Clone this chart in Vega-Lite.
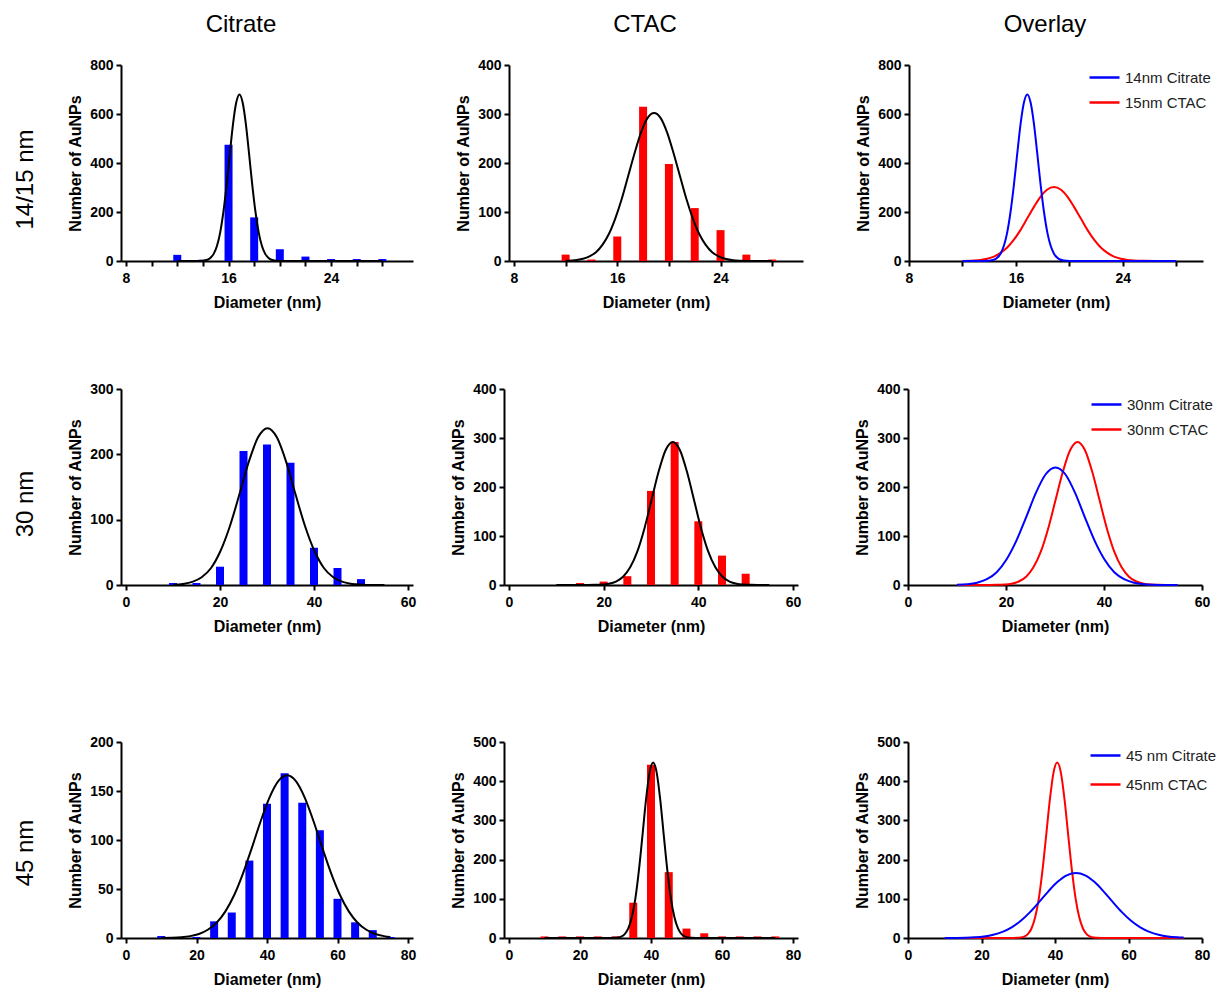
{
  "$schema": "https://vega.github.io/schema/vega-lite/v6.json",
  "background": "white",
  "padding": {"left": 13, "top": 13, "right": 5, "bottom": 5},
  "config": {
    "font": "Liberation Sans",
    "view": {"stroke": null},
    "axis": {"grid": false, "domainColor": "#000", "domainWidth": 2, "tickColor": "#000", "tickWidth": 2, "tickSize": 5,
      "labelFont": "Liberation Sans", "labelFontSize": 14, "labelFontWeight": "bold", "labelColor": "#000",
      "titleFont": "Liberation Sans", "titleFontSize": 16, "titleFontWeight": "bold", "titleColor": "#000"},
    "axisY": {"titlePadding": 6, "labelPadding": 3},
    "axisX": {"titlePadding": 9, "labelPadding": 5, "labelFlush": false},
    "title": {"font": "Liberation Sans", "fontSize": 24, "fontWeight": "normal", "color": "#000"},
    "legend": {"orient": "none", "title": null, "symbolType": "stroke", "symbolSize": 900, "symbolStrokeWidth": 2.5,
      "labelFont": "Liberation Sans", "labelFontSize": 15, "labelColor": "#222", "padding": 0, "labelOffset": 4}
  },
  "datasets": {
    "b1": [{"d":12,"n":25},{"d":14,"n":5},{"d":16,"n":475},{"d":18,"n":178},{"d":20,"n":48},{"d":22,"n":18},{"d":24,"n":8},{"d":26,"n":8},{"d":28,"n":8}],
    "b2": [{"d":12,"n":13},{"d":14,"n":3},{"d":16,"n":50},{"d":18,"n":315},{"d":20,"n":198},{"d":22,"n":108},{"d":24,"n":63},{"d":26,"n":13},{"d":28,"n":3}],
    "b3": [{"d":10,"n":3},{"d":15,"n":3},{"d":20,"n":28},{"d":25,"n":205},{"d":30,"n":215},{"d":35,"n":187},{"d":40,"n":57},{"d":45,"n":26},{"d":50,"n":9}],
    "b4": [{"d":15,"n":4},{"d":20,"n":7},{"d":25,"n":18},{"d":30,"n":192},{"d":35,"n":292},{"d":40,"n":130},{"d":45,"n":60},{"d":50,"n":23}],
    "b5": [{"d":10,"n":2},{"d":15,"n":1},{"d":20,"n":1},{"d":25,"n":17},{"d":30,"n":26},{"d":35,"n":79},{"d":40,"n":137},{"d":45,"n":168},{"d":50,"n":138},{"d":55,"n":110},{"d":60,"n":40},{"d":65,"n":16},{"d":70,"n":8},{"d":75,"n":1}],
    "b6": [{"d":10,"n":4},{"d":15,"n":4},{"d":20,"n":4},{"d":25,"n":4},{"d":30,"n":4},{"d":35,"n":90},{"d":40,"n":442},{"d":45,"n":168},{"d":50,"n":24},{"d":55,"n":12},{"d":60,"n":4},{"d":65,"n":4},{"d":70,"n":4},{"d":75,"n":4}],
    "c1": [{"s":"14nm Citrate","d":12,"n":0},{"s":"14nm Citrate","d":13,"n":0},{"s":"14nm Citrate","d":14,"n":1.5},{"s":"14nm Citrate","d":14.35,"n":5},{"s":"14nm Citrate","d":14.6,"n":13},{"s":"14nm Citrate","d":14.85,"n":30},{"s":"14nm Citrate","d":15.1,"n":62},{"s":"14nm Citrate","d":15.35,"n":117},{"s":"14nm Citrate","d":15.6,"n":201},{"s":"14nm Citrate","d":15.85,"n":311},{"s":"14nm Citrate","d":16.1,"n":438},{"s":"14nm Citrate","d":16.35,"n":560},{"s":"14nm Citrate","d":16.6,"n":647},{"s":"14nm Citrate","d":16.85,"n":680},{"s":"14nm Citrate","d":17.1,"n":647},{"s":"14nm Citrate","d":17.35,"n":560},{"s":"14nm Citrate","d":17.6,"n":438},{"s":"14nm Citrate","d":17.85,"n":311},{"s":"14nm Citrate","d":18.1,"n":201},{"s":"14nm Citrate","d":18.35,"n":117},{"s":"14nm Citrate","d":18.6,"n":62},{"s":"14nm Citrate","d":18.85,"n":30},{"s":"14nm Citrate","d":19.1,"n":13},{"s":"14nm Citrate","d":19.35,"n":5},{"s":"14nm Citrate","d":19.6,"n":2},{"s":"14nm Citrate","d":20,"n":0.3},{"s":"14nm Citrate","d":21,"n":0},{"s":"14nm Citrate","d":24,"n":0},{"s":"14nm Citrate","d":28,"n":0}],
    "c2": [{"s":"15nm CTAC","d":12,"n":0.4},{"s":"15nm CTAC","d":12.85,"n":2.1},{"s":"15nm CTAC","d":13.35,"n":4.6},{"s":"15nm CTAC","d":13.85,"n":9.5},{"s":"15nm CTAC","d":14.35,"n":18},{"s":"15nm CTAC","d":14.85,"n":33},{"s":"15nm CTAC","d":15.35,"n":55},{"s":"15nm CTAC","d":15.85,"n":87},{"s":"15nm CTAC","d":16.35,"n":127},{"s":"15nm CTAC","d":16.85,"n":174},{"s":"15nm CTAC","d":17.35,"n":221},{"s":"15nm CTAC","d":17.85,"n":263},{"s":"15nm CTAC","d":18.35,"n":292},{"s":"15nm CTAC","d":18.85,"n":302},{"s":"15nm CTAC","d":19.35,"n":292},{"s":"15nm CTAC","d":19.85,"n":263},{"s":"15nm CTAC","d":20.35,"n":221},{"s":"15nm CTAC","d":20.85,"n":174},{"s":"15nm CTAC","d":21.35,"n":127},{"s":"15nm CTAC","d":21.85,"n":87},{"s":"15nm CTAC","d":22.35,"n":55},{"s":"15nm CTAC","d":22.85,"n":33},{"s":"15nm CTAC","d":23.35,"n":18},{"s":"15nm CTAC","d":23.85,"n":9.5},{"s":"15nm CTAC","d":24.35,"n":4.6},{"s":"15nm CTAC","d":24.85,"n":2.1},{"s":"15nm CTAC","d":25.5,"n":0.7},{"s":"15nm CTAC","d":26.5,"n":0.1},{"s":"15nm CTAC","d":28,"n":0}],
    "c3": [{"s":"30nm Citrate","d":10,"n":0.4},{"s":"30nm Citrate","d":12.1,"n":1.6},{"s":"30nm Citrate","d":14.1,"n":4.7},{"s":"30nm Citrate","d":16.1,"n":11.8},{"s":"30nm Citrate","d":18.1,"n":26},{"s":"30nm Citrate","d":20.1,"n":52},{"s":"30nm Citrate","d":22.1,"n":90},{"s":"30nm Citrate","d":24.1,"n":138},{"s":"30nm Citrate","d":26.1,"n":188},{"s":"30nm Citrate","d":28.1,"n":226},{"s":"30nm Citrate","d":30.1,"n":240},{"s":"30nm Citrate","d":32.1,"n":226},{"s":"30nm Citrate","d":34.1,"n":188},{"s":"30nm Citrate","d":36.1,"n":138},{"s":"30nm Citrate","d":38.1,"n":90},{"s":"30nm Citrate","d":40.1,"n":52},{"s":"30nm Citrate","d":42.1,"n":26},{"s":"30nm Citrate","d":44.1,"n":11.8},{"s":"30nm Citrate","d":46.1,"n":4.7},{"s":"30nm Citrate","d":48.1,"n":1.6},{"s":"30nm Citrate","d":50.1,"n":0.5},{"s":"30nm Citrate","d":52.1,"n":0.1},{"s":"30nm Citrate","d":55,"n":0}],
    "c4": [{"s":"30nm CTAC","d":10,"n":0},{"s":"30nm CTAC","d":16.6,"n":0.07},{"s":"30nm CTAC","d":18.1,"n":0.26},{"s":"30nm CTAC","d":19.6,"n":0.9},{"s":"30nm CTAC","d":21.1,"n":2.6},{"s":"30nm CTAC","d":22.6,"n":7.1},{"s":"30nm CTAC","d":24.1,"n":17},{"s":"30nm CTAC","d":25.6,"n":36},{"s":"30nm CTAC","d":27.1,"n":68},{"s":"30nm CTAC","d":28.6,"n":115},{"s":"30nm CTAC","d":30.1,"n":173},{"s":"30nm CTAC","d":31.6,"n":231},{"s":"30nm CTAC","d":33.1,"n":275.5},{"s":"30nm CTAC","d":34.6,"n":292},{"s":"30nm CTAC","d":36.1,"n":275.5},{"s":"30nm CTAC","d":37.6,"n":231},{"s":"30nm CTAC","d":39.1,"n":173},{"s":"30nm CTAC","d":40.6,"n":115},{"s":"30nm CTAC","d":42.1,"n":68},{"s":"30nm CTAC","d":43.6,"n":36},{"s":"30nm CTAC","d":45.1,"n":17},{"s":"30nm CTAC","d":46.6,"n":7.1},{"s":"30nm CTAC","d":48.1,"n":2.6},{"s":"30nm CTAC","d":49.6,"n":0.9},{"s":"30nm CTAC","d":51.1,"n":0.26},{"s":"30nm CTAC","d":52.6,"n":0.07},{"s":"30nm CTAC","d":55,"n":0}],
    "c5": [{"s":"45 nm Citrate","d":10,"n":0.09},{"s":"45 nm Citrate","d":13.2,"n":0.3},{"s":"45 nm Citrate","d":15.7,"n":0.8},{"s":"45 nm Citrate","d":18.2,"n":1.9},{"s":"45 nm Citrate","d":20.7,"n":4.1},{"s":"45 nm Citrate","d":23.2,"n":8.4},{"s":"45 nm Citrate","d":25.7,"n":15.6},{"s":"45 nm Citrate","d":28.2,"n":27.2},{"s":"45 nm Citrate","d":30.7,"n":43.9},{"s":"45 nm Citrate","d":33.2,"n":66},{"s":"45 nm Citrate","d":35.7,"n":92},{"s":"45 nm Citrate","d":38.2,"n":119.1},{"s":"45 nm Citrate","d":40.7,"n":143.2},{"s":"45 nm Citrate","d":43.2,"n":160},{"s":"45 nm Citrate","d":45.7,"n":166},{"s":"45 nm Citrate","d":48.2,"n":160},{"s":"45 nm Citrate","d":50.7,"n":143.2},{"s":"45 nm Citrate","d":53.2,"n":119.1},{"s":"45 nm Citrate","d":55.7,"n":92},{"s":"45 nm Citrate","d":58.2,"n":66},{"s":"45 nm Citrate","d":60.7,"n":43.9},{"s":"45 nm Citrate","d":63.2,"n":27.2},{"s":"45 nm Citrate","d":65.7,"n":15.6},{"s":"45 nm Citrate","d":68.2,"n":8.4},{"s":"45 nm Citrate","d":70.7,"n":4.1},{"s":"45 nm Citrate","d":73.2,"n":1.9},{"s":"45 nm Citrate","d":75,"n":1.0}],
    "c6": [{"s":"45nm CTAC","d":10,"n":0},{"s":"45nm CTAC","d":28.6,"n":0.09},{"s":"45nm CTAC","d":29.6,"n":0.34},{"s":"45nm CTAC","d":30.6,"n":1.2},{"s":"45nm CTAC","d":31.6,"n":3.6},{"s":"45nm CTAC","d":32.6,"n":10},{"s":"45nm CTAC","d":33.6,"n":24.3},{"s":"45nm CTAC","d":34.6,"n":52.7},{"s":"45nm CTAC","d":35.6,"n":101},{"s":"45nm CTAC","d":36.6,"n":173},{"s":"45nm CTAC","d":37.6,"n":262},{"s":"45nm CTAC","d":38.6,"n":353},{"s":"45nm CTAC","d":39.6,"n":422},{"s":"45nm CTAC","d":40.6,"n":448},{"s":"45nm CTAC","d":41.6,"n":422},{"s":"45nm CTAC","d":42.6,"n":353},{"s":"45nm CTAC","d":43.6,"n":262},{"s":"45nm CTAC","d":44.6,"n":173},{"s":"45nm CTAC","d":45.6,"n":101},{"s":"45nm CTAC","d":46.6,"n":52.7},{"s":"45nm CTAC","d":47.6,"n":24.3},{"s":"45nm CTAC","d":48.6,"n":10},{"s":"45nm CTAC","d":49.6,"n":3.6},{"s":"45nm CTAC","d":50.6,"n":1.2},{"s":"45nm CTAC","d":51.6,"n":0.34},{"s":"45nm CTAC","d":52.6,"n":0.09},{"s":"45nm CTAC","d":75,"n":0}]
  },
  "resolve": {"scale": {"color": "independent"}, "legend": {"color": "independent"}},
  "spacing": 101,
  "vconcat": [
    {
      "spacing": 72,
      "resolve": {"scale": {"color": "independent"}, "legend": {"color": "independent"}},
      "vconcat": [
        {
          "title": {"text": "14/15 nm", "orient": "left", "anchor": "middle", "offset": 30, "dx": -18},
          "spacing": 52,
          "resolve": {"scale": {"color": "independent"}, "legend": {"color": "independent"}},
          "hconcat": [
            {
              "spacing": 42,
              "hconcat": [
                {
                  "width": 292, "height": 196,
                  "title": {"text": "Citrate", "frame": "group", "anchor": "middle", "dx": -26, "offset": 21},
                  "encoding": {
                    "x": {"field": "d", "type": "quantitative", "scale": {"domain": [8, 30], "nice": false, "zero": false}, "axis": {"title": "Diameter (nm)", "values": [8,10,12,14,16,18,20,22,24,26,28], "labelExpr": "datum.value % 8 === 0 ? datum.label : ''"}},
                    "y": {"field": "n", "type": "quantitative", "scale": {"domain": [0, 800], "nice": false}, "axis": {"title": "Number of AuNPs", "values": [0,200,400,600,800]}}
                  },
                  "layer": [
                    {"data": {"name": "b1"}, "mark": {"type": "bar", "size": 8, "color": "#0000FF"}},
                    {"data": {"name": "c1"}, "mark": {"type": "line", "color": "#000", "strokeWidth": 2, "interpolate": "monotone"}}
                  ]
                },
                {
                  "width": 294, "height": 196,
                  "title": {"text": "CTAC", "frame": "group", "anchor": "middle", "dx": -11, "offset": 21},
                  "encoding": {
                    "x": {"field": "d", "type": "quantitative", "scale": {"domain": [8, 30], "nice": false, "zero": false}, "axis": {"title": "Diameter (nm)", "values": [8,12,16,20,24,28], "labelExpr": "datum.value % 8 === 0 ? datum.label : ''"}},
                    "y": {"field": "n", "type": "quantitative", "scale": {"domain": [0, 400], "nice": false}, "axis": {"title": "Number of AuNPs", "values": [0,100,200,300,400]}}
                  },
                  "layer": [
                    {"data": {"name": "b2"}, "mark": {"type": "bar", "size": 8, "color": "#FF0000"}},
                    {"data": {"name": "c2"}, "mark": {"type": "line", "color": "#000", "strokeWidth": 2, "interpolate": "monotone"}}
                  ]
                }
              ]
            },
            {
              "width": 294, "height": 196,
              "title": {"text": "Overlay", "frame": "group", "anchor": "middle", "dx": -11, "offset": 21},
              "encoding": {
                "x": {"field": "d", "type": "quantitative", "scale": {"domain": [8, 30], "nice": false, "zero": false}, "axis": {"title": "Diameter (nm)", "values": [8,12,16,20,24,28], "labelExpr": "datum.value % 8 === 0 ? datum.label : ''"}},
                "y": {"field": "n", "type": "quantitative", "scale": {"domain": [0, 800], "nice": false}, "axis": {"title": "Number of AuNPs", "values": [0,200,400,600,800]}},
                "color": {"field": "s", "type": "nominal", "scale": {"domain": ["14nm Citrate", "15nm CTAC"], "range": ["#0000FF", "#FF0000"]}, "legend": {"legendX": 179, "legendY": -4, "rowPadding": -6}}
              },
              "layer": [
                {"data": {"name": "c2"}, "mark": {"type": "line", "strokeWidth": 2, "interpolate": "monotone"}},
                {"data": {"name": "c1"}, "mark": {"type": "line", "strokeWidth": 2, "interpolate": "monotone"}}
              ]
            }
          ]
        },
        {
          "title": {"text": "30 nm", "orient": "left", "anchor": "middle", "offset": 30, "dx": 4},
          "spacing": 53,
          "resolve": {"scale": {"color": "independent"}, "legend": {"color": "independent"}},
          "hconcat": [
            {
              "spacing": 34,
              "hconcat": [
                {
                  "width": 292, "height": 196,
                  "encoding": {
                    "x": {"field": "d", "type": "quantitative", "scale": {"domain": [0, 60], "nice": false}, "axis": {"title": "Diameter (nm)", "values": [0,20,40,60]}},
                    "y": {"field": "n", "type": "quantitative", "scale": {"domain": [0, 300], "nice": false}, "axis": {"title": "Number of AuNPs", "values": [0,100,200,300]}}
                  },
                  "layer": [
                    {"data": {"name": "b3"}, "mark": {"type": "bar", "size": 8, "color": "#0000FF"}},
                    {"data": {"name": "c3"}, "mark": {"type": "line", "color": "#000", "strokeWidth": 2, "interpolate": "monotone"}}
                  ]
                },
                {
                  "width": 294, "height": 196,
                  "encoding": {
                    "x": {"field": "d", "type": "quantitative", "scale": {"domain": [0, 60], "nice": false}, "axis": {"title": "Diameter (nm)", "values": [0,20,40,60]}},
                    "y": {"field": "n", "type": "quantitative", "scale": {"domain": [0, 400], "nice": false}, "axis": {"title": "Number of AuNPs", "values": [0,100,200,300,400]}}
                  },
                  "layer": [
                    {"data": {"name": "b4"}, "mark": {"type": "bar", "size": 8, "color": "#FF0000"}},
                    {"data": {"name": "c4"}, "mark": {"type": "line", "color": "#000", "strokeWidth": 2, "interpolate": "monotone"}}
                  ]
                }
              ]
            },
            {
              "width": 294, "height": 196,
              "encoding": {
                "x": {"field": "d", "type": "quantitative", "scale": {"domain": [0, 60], "nice": false}, "axis": {"title": "Diameter (nm)", "values": [0,20,40,60]}},
                "y": {"field": "n", "type": "quantitative", "scale": {"domain": [0, 400], "nice": false}, "axis": {"title": "Number of AuNPs", "values": [0,100,200,300,400]}},
                "color": {"field": "s", "type": "nominal", "scale": {"domain": ["30nm Citrate", "30nm CTAC"], "range": ["#0000FF", "#FF0000"]}, "legend": {"legendX": 182, "legendY": -1, "rowPadding": -6}}
              },
              "layer": [
                {"data": {"name": "c4"}, "mark": {"type": "line", "strokeWidth": 2, "interpolate": "monotone"}},
                {"data": {"name": "c3"}, "mark": {"type": "line", "strokeWidth": 2, "interpolate": "monotone"}}
              ]
            }
          ]
        }
      ]
    },
    {
      "title": {"text": "45 nm", "orient": "left", "anchor": "middle", "offset": 30, "dx": 8},
      "spacing": 53,
      "resolve": {"scale": {"color": "independent"}, "legend": {"color": "independent"}},
      "hconcat": [
        {
          "spacing": 34,
          "hconcat": [
            {
              "width": 292, "height": 196,
              "encoding": {
                "x": {"field": "d", "type": "quantitative", "scale": {"domain": [0, 80], "nice": false}, "axis": {"title": "Diameter (nm)", "values": [0,20,40,60,80]}},
                "y": {"field": "n", "type": "quantitative", "scale": {"domain": [0, 200], "nice": false}, "axis": {"title": "Number of AuNPs", "values": [0,50,100,150,200]}}
              },
              "layer": [
                {"data": {"name": "b5"}, "mark": {"type": "bar", "size": 8, "color": "#0000FF"}},
                {"data": {"name": "c5"}, "mark": {"type": "line", "color": "#000", "strokeWidth": 2, "interpolate": "monotone"}}
              ]
            },
            {
              "width": 294, "height": 196,
              "encoding": {
                "x": {"field": "d", "type": "quantitative", "scale": {"domain": [0, 80], "nice": false}, "axis": {"title": "Diameter (nm)", "values": [0,20,40,60,80]}},
                "y": {"field": "n", "type": "quantitative", "scale": {"domain": [0, 500], "nice": false}, "axis": {"title": "Number of AuNPs", "values": [0,100,200,300,400,500]}}
              },
              "layer": [
                {"data": {"name": "b6"}, "mark": {"type": "bar", "size": 8, "color": "#FF0000"}},
                {"data": {"name": "c6"}, "mark": {"type": "line", "color": "#000", "strokeWidth": 2, "interpolate": "monotone"}}
              ]
            }
          ]
        },
        {
          "width": 294, "height": 196,
          "encoding": {
            "x": {"field": "d", "type": "quantitative", "scale": {"domain": [0, 80], "nice": false}, "axis": {"title": "Diameter (nm)", "values": [0,20,40,60,80]}},
            "y": {"field": "n", "type": "quantitative", "scale": {"domain": [0, 500], "nice": false}, "axis": {"title": "Number of AuNPs", "values": [0,100,200,300,400,500]}},
            "color": {"field": "s", "type": "nominal", "scale": {"domain": ["45 nm Citrate", "45nm CTAC"], "range": ["#0000FF", "#FF0000"]}, "legend": {"legendX": 181, "legendY": -3, "rowPadding": 4}}
          },
          "layer": [
            {"data": {"name": "c6"}, "mark": {"type": "line", "strokeWidth": 2, "interpolate": "monotone"}},
            {"data": {"name": "c5"}, "mark": {"type": "line", "strokeWidth": 2, "interpolate": "monotone"}}
          ]
        }
      ]
    }
  ]
}
